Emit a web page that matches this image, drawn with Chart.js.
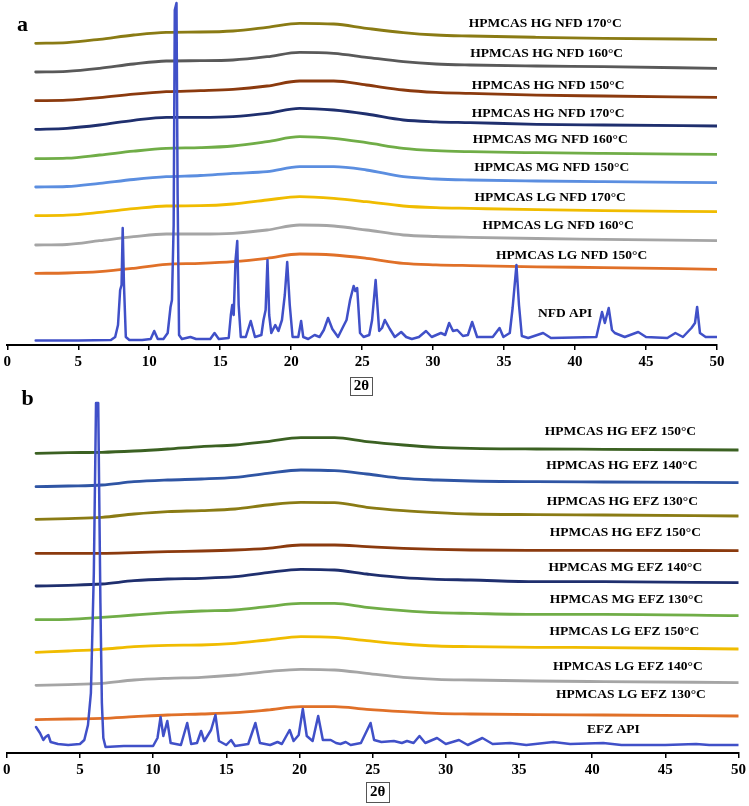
<!DOCTYPE html>
<html><head><meta charset="utf-8">
<script src="https://cdn.jsdelivr.net/npm/chart.js@4.4.0/dist/chart.umd.min.js"></script>
<style>
html,body{margin:0;padding:0;background:#fff;}
#wrapA{position:absolute;left:0;top:0;width:749px;height:400px;}
#wrapB{position:absolute;left:0;top:390px;width:749px;height:416px;}
</style></head><body>
<div id="wrapA"><canvas id="cA"></canvas></div>
<div id="wrapB"><canvas id="cB"></canvas></div>
<script>
// ---------- Shared ----------
const xTicks = [0, 5, 10, 15, 20, 25, 30, 35, 40, 45, 50];

// ---------- Panel a (NFD) ----------
const labelsA = ['HPMCAS HG NFD 170°C','HPMCAS HG NFD 160°C','HPMCAS HG NFD 150°C','HPMCAS HG NFD 170°C','HPMCAS MG NFD 160°C','HPMCAS MG NFD 150°C','HPMCAS LG NFD 170°C','HPMCAS LG NFD 160°C','HPMCAS LG NFD 150°C'];
const apiLabelA = 'NFD API';
const offsetsA = [301.7, 273, 244.3, 215.7, 186.3, 158, 129.3, 100, 71.7];
const gridA = [2, 4.2, 6.5, 8.9, 11.2, 13.6, 15.9, 18.3, 20.6, 23.0, 25.3, 27.9, 30.2, 32.6, 37.3, 42.0, 50];
const hgNfd170a = [0, 0.7, 4, 8.3, 11, 11.3, 12.3, 16, 20, 19.3, 15, 10.7, 8.3, 7.3, 6, 5, 4];
const hgNfd160  = [0, 0.7, 3.7, 8, 11, 11.3, 12, 15.3, 19.7, 18.7, 14.7, 10.3, 8, 7, 6, 5.3, 3.7];
const hgNfd150  = [0, 0.5, 3, 6.5, 9, 10, 11.3, 14.7, 19.7, 19.7, 15.7, 10.7, 8.3, 7.3, 5.5, 4.7, 3.3];
const hgNfd170b = [0, 1, 4.3, 9, 12, 12, 12.7, 16, 21, 19.3, 15.3, 9.3, 7.5, 6.7, 5, 4.3, 3.3];
const mgNfd160  = [0, 0.5, 3.7, 7.5, 10.3, 11, 12.7, 17, 22, 20.3, 16, 10.3, 8, 7, 6, 5.3, 4.3];
const mgNfd150  = [0, 0.5, 3.7, 7.5, 10.3, 11.5, 13.7, 15.3, 20.3, 20.3, 17, 10.3, 8, 7, 6, 5.3, 4.3];
const lgNfd170  = [0, 0.5, 3.3, 7, 9.7, 10, 11.7, 15.7, 19, 17.3, 14, 9.7, 8, 7.3, 6, 5, 4];
const lgNfd160  = [0, 0.5, 4.3, 8.3, 11, 11, 11.7, 15, 20, 19, 15, 10, 8.5, 7.7, 6.5, 5.7, 4.3];
const lgNfd150  = [0, 0.3, 1.7, 5, 9, 10, 11.7, 15, 19.3, 18.3, 15, 10, 8.5, 7.7, 6.5, 5.7, 4];
const seriesA = [hgNfd170a, hgNfd160, hgNfd150, hgNfd170b, mgNfd160, mgNfd150, lgNfd170, lgNfd160, lgNfd150];
const colorsA = ['#8a7b14','#595959','#8b3a0e','#1f2f6e','#70ad47','#5b8ee0','#f0bc00','#a5a5a5','#e07028'];

const nfdApiX = [2, 5, 7.3, 7.6, 7.8, 7.95, 8.05, 8.13, 8.22, 8.35, 8.6, 9.5, 10.1, 10.35, 10.6, 11.0, 11.3, 11.5, 11.6, 11.72, 11.8, 11.92, 12.0, 12.1, 12.3, 12.9, 13.3, 14.3, 14.6, 14.9, 15.6, 15.75, 15.85, 15.95, 16.08, 16.2, 16.3, 16.45, 16.8, 17.15, 17.45, 17.9, 18.05, 18.2, 18.33, 18.45, 18.6, 18.88, 19.1, 19.35, 19.55, 19.72, 19.9, 20.1, 20.5, 20.7, 20.85, 21.2, 21.65, 22.0, 22.3, 22.6, 22.9, 23.3, 23.65, 23.9, 24.15, 24.4, 24.52, 24.65, 24.85, 25.1, 25.5, 25.7, 25.95, 26.2, 26.4, 26.6, 26.95, 27.3, 27.75, 28.1, 28.5, 29.0, 29.5, 29.9, 30.55, 30.85, 31.13, 31.4, 31.7, 32.1, 32.45, 32.75, 33.1, 34.2, 34.68, 34.95, 35.4, 35.6, 35.87, 36.05, 36.25, 36.7, 37.75, 38.3, 41.5, 41.9, 42.1, 42.37, 42.6, 42.8, 43.5, 44.45, 45.0, 46.5, 47.07, 47.6, 48.2, 48.45, 48.6, 48.8, 49.2, 50];
const nfdApiY = [4.5, 4.5, 5, 8, 20, 55, 60, 117, 60, 8, 5, 5, 6, 14, 6, 6, 12, 38, 45, 120, 335, 342, 150, 10, 6, 8, 6, 6, 12, 6, 7, 30, 40, 30, 85, 104, 40, 8, 8, 24, 8, 10, 25, 35, 85, 30, 12, 20, 14, 25, 50, 83, 40, 8, 8, 24, 8, 6, 10, 8, 15, 27, 16, 8, 18, 25, 45, 59, 54, 57, 12, 8, 10, 25, 65, 14, 17, 25, 16, 8, 13, 8, 6, 8, 14, 8, 12, 10, 22, 14, 15, 9, 10, 23, 8, 8, 17, 8, 12, 37, 80, 40, 9, 7, 12, 7, 8, 33, 22, 37, 15, 12, 8, 13, 8, 7, 12, 8, 17, 22, 38, 12, 8, 8];

const labelPosA_X = [37.9, 38.0, 38.1, 38.1, 38.25, 38.35, 38.25, 38.8, 39.75];
const labelPosA_Y = [321.7, 291.7, 259, 231, 205, 177.7, 147, 119, 89];
const apiLabelPosA = [39.3, 31];

// ---------- Panel b (EFZ) ----------
const labelsB = ['HPMCAS HG EFZ 150°C','HPMCAS HG EFZ 140°C','HPMCAS HG EFZ 130°C','HPMCAS HG EFZ 150°C','HPMCAS MG EFZ 140°C','HPMCAS MG EFZ 130°C','HPMCAS LG EFZ 150°C','HPMCAS LG EFZ 140°C','HPMCAS LG EFZ 130°C'];
const apiLabelB = 'EFZ API';
const offsetsB = [299.7, 266.3, 233.7, 199.7, 167, 133.3, 100.7, 67.7, 33.3];
const gridB = [2, 4.2, 6.5, 8.7, 11.0, 13.3, 15.6, 17.8, 20.1, 22.4, 24.6, 27.1, 29.4, 31.7, 36.2, 40.8, 50];
const hgEfz150a = [0, 0.7, 1, 2.3, 4.3, 6.7, 8.3, 11.7, 15.7, 15.7, 11.7, 8.3, 6, 5, 4.3, 4, 3.3];
const hgEfz140  = [0, 0.7, 1.7, 5, 6.7, 7.7, 9.3, 13.3, 16.7, 16, 12.7, 8.3, 6.7, 5.7, 5, 4.7, 4];
const hgEfz130  = [0, 0.7, 2, 5.3, 7.7, 8.7, 10.3, 14.3, 17, 16.7, 12, 8.7, 6.7, 5.3, 4.7, 4.3, 3.3];
const hgEfz150b = [0, 0, 0, 0.7, 1.7, 2.3, 3.3, 5, 8.3, 8.3, 6.7, 5, 4, 3.3, 3, 3, 2.7];
const mgEfz140  = [0, 0.7, 2, 5.3, 7, 7.7, 9.3, 13.3, 16.7, 16, 12, 8.3, 6.7, 6, 4.3, 4.3, 3.3];
const mgEfz130  = [0, 0.3, 2.3, 4.7, 7, 8.7, 9.7, 13, 16.3, 16.3, 12.3, 9, 7, 6.3, 5.3, 5.3, 4];
const lgEfz150  = [0, 1.3, 3, 5.7, 7, 7.3, 9, 12.3, 15.7, 15, 11.7, 8.3, 6.3, 5.7, 5, 4.7, 3.3];
const lgEfz140  = [0, 0.7, 2, 5.3, 7, 8, 10.3, 13.7, 16, 15.3, 12, 8, 6, 5.3, 4.3, 3.7, 2.7];
const lgEfz130  = [0, 0.7, 1.3, 3, 4.7, 5.7, 7, 9.7, 13, 13, 10.3, 8, 6.3, 5.7, 5, 4.7, 3.7];
const seriesB = [hgEfz150a, hgEfz140, hgEfz130, hgEfz150b, mgEfz140, mgEfz130, lgEfz150, lgEfz140, lgEfz130];
const colorsB = ['#3b6122','#2f55a4','#8a7b14','#8b3a0e','#1f2f6e','#70ad47','#f0bc00','#a5a5a5','#e07028'];

const efzApiX = [2.0, 2.27, 2.5, 2.65, 2.84, 3.0, 3.5, 4.2, 5.0, 5.3, 5.55, 5.75, 5.95, 6.1, 6.25, 6.4, 6.5, 6.6, 6.75, 8, 10.0, 10.3, 10.51, 10.7, 10.97, 11.2, 11.9, 12.33, 12.6, 13.0, 13.28, 13.5, 13.96, 14.26, 14.5, 15.0, 15.33, 15.6, 16.5, 16.99, 17.3, 18.0, 18.5, 18.8, 19.33, 19.6, 19.95, 20.23, 20.5, 20.9, 21.28, 21.6, 22.14, 22.5, 22.8, 23.16, 23.5, 24.2, 24.86, 25.1, 25.6, 26.45, 27.0, 27.35, 27.8, 28.2, 28.6, 29.4, 30.0, 30.9, 31.5, 32.5, 33.2, 34.4, 35.5, 37.35, 38.5, 40.76, 42, 45, 47.1, 48, 50];
const efzApiY = [26, 20, 13, 16, 18, 11, 9, 8, 9, 13, 28, 60, 180, 350, 350, 150, 50, 15, 6, 7, 7, 15, 36, 17, 32, 10, 8, 30, 9, 10, 22, 12, 23, 38, 12, 8, 13, 7, 9, 30, 10, 8, 11, 9, 23, 12, 18, 44, 17, 12, 37, 13, 13, 10, 9, 11, 8, 10, 30, 13, 11, 12, 10, 12, 10, 17, 10, 15, 9, 13, 8, 15, 9, 10, 8, 11, 9, 10, 8, 8, 9, 8, 8];

const labelPosB_X = [41.93, 42.03, 42.06, 42.27, 42.27, 42.34, 42.2, 42.44, 42.65];
const labelPosB_Y = [321.3, 287.7, 251.3, 220.3, 185.3, 153, 121.3, 86.3, 58];
const apiLabelPosB = [41.45, 23.7];

const apiColor = '#4050c8';
const FONT = '"Liberation Serif", "Times New Roman", serif';

function buildDatasets(grid, series, offsets, colors, apiX, apiY) {
  const ds = [{
    data: apiX.map((x, i) => ({x, y: apiY[i]})),
    borderColor: apiColor, borderWidth: 2.5, pointRadius: 0, tension: 0, fill: false
  }];
  series.forEach((vals, k) => {
    ds.push({
      data: grid.map((x, i) => ({x, y: offsets[k] + vals[i]})),
      borderColor: colors[k], borderWidth: 2.8, pointRadius: 0,
      cubicInterpolationMode: 'monotone', fill: false
    });
  });
  return ds;
}

function annotPlugin(cfg) {
  return {
    id: 'annot' + cfg.letter,
    afterDraw(chart) {
      const ctx = chart.ctx, xs = chart.scales.x, ys = chart.scales.y, ca = chart.chartArea;
      ctx.save();
      ctx.fillStyle = '#000';
      ctx.textAlign = 'center';
      ctx.textBaseline = 'middle';
      ctx.font = 'bold 13.5px ' + FONT;
      cfg.labels.forEach((t, i) => {
        ctx.fillText(t, xs.getPixelForValue(cfg.lx[i]), ys.getPixelForValue(cfg.ly[i]));
      });
      ctx.fillText(cfg.apiLabel, xs.getPixelForValue(cfg.apiPos[0]), ys.getPixelForValue(cfg.apiPos[1]));
      // axis title 2θ with box
      ctx.font = 'bold 15px ' + FONT;
      const cx = (ca.left + ca.right) / 2 + cfg.titleDx, cy = ca.bottom + cfg.titleDy;
      ctx.fillText('2θ', cx, cy);
      ctx.strokeStyle = '#555';
      ctx.lineWidth = 1;
      ctx.strokeRect(Math.round(cx - cfg.boxW / 2) + 0.5, Math.round(cy - cfg.boxH / 2) + 0.5, cfg.boxW, cfg.boxH);
      // panel letter
      ctx.textAlign = 'left';
      ctx.textBaseline = 'alphabetic';
      ctx.font = 'bold 22px ' + FONT;
      ctx.fillText(cfg.letter, cfg.letterX, cfg.letterY);
      ctx.restore();
    }
  };
}

function makeChart(id, datasets, yMax, axisH, padRight, padLeft, plugin) {
  return new Chart(document.getElementById(id), {
    type: 'line',
    data: { datasets },
    options: {
      responsive: true, maintainAspectRatio: false, animation: false,
      layout: { padding: { left: padLeft, right: padRight, top: 0, bottom: 0 } },
      plugins: { legend: { display: false }, tooltip: { enabled: false } },
      elements: { line: { borderCapStyle: 'round', borderJoinStyle: 'round' } },
      scales: {
        x: {
          type: 'linear', min: 0, max: 50,
          afterBuildTicks: (s) => { s.ticks = xTicks.map(v => ({ value: v })); },
          afterFit: (s) => { s.height = axisH; },
          ticks: { color: '#000', font: { family: FONT, size: 15, weight: 'bold' }, padding: 3, maxRotation: 0, autoSkip: false },
          grid: { display: true, drawOnChartArea: false, drawTicks: true, tickLength: 5, color: '#000', lineWidth: 1.5 },
          border: { display: true, color: '#000', width: 2 }
        },
        y: { type: 'linear', display: false, min: 0, max: yMax }
      }
    },
    plugins: [plugin]
  });
}

makeChart('cA', buildDatasets(gridA, seriesA, offsetsA, colorsA, nfdApiX, nfdApiY), 345, 55, 32, 7.3,
  annotPlugin({ letter: 'a', labels: labelsA, lx: labelPosA_X, ly: labelPosA_Y, apiLabel: apiLabelA, apiPos: apiLabelPosA,
    titleDx: -0.7, titleDy: 41, boxW: 22, boxH: 18, letterX: 17, letterY: 31 }));

makeChart('cB', buildDatasets(gridB, seriesB, offsetsB, colorsB, efzApiX, efzApiY), 363, 53, 10, 5,
  annotPlugin({ letter: 'b', labels: labelsB, lx: labelPosB_X, ly: labelPosB_Y, apiLabel: apiLabelB, apiPos: apiLabelPosB,
    titleDx: 5, titleDy: 39.3, boxW: 23, boxH: 20, letterX: 21.5, letterY: 15 }));
</script>
</body></html>
